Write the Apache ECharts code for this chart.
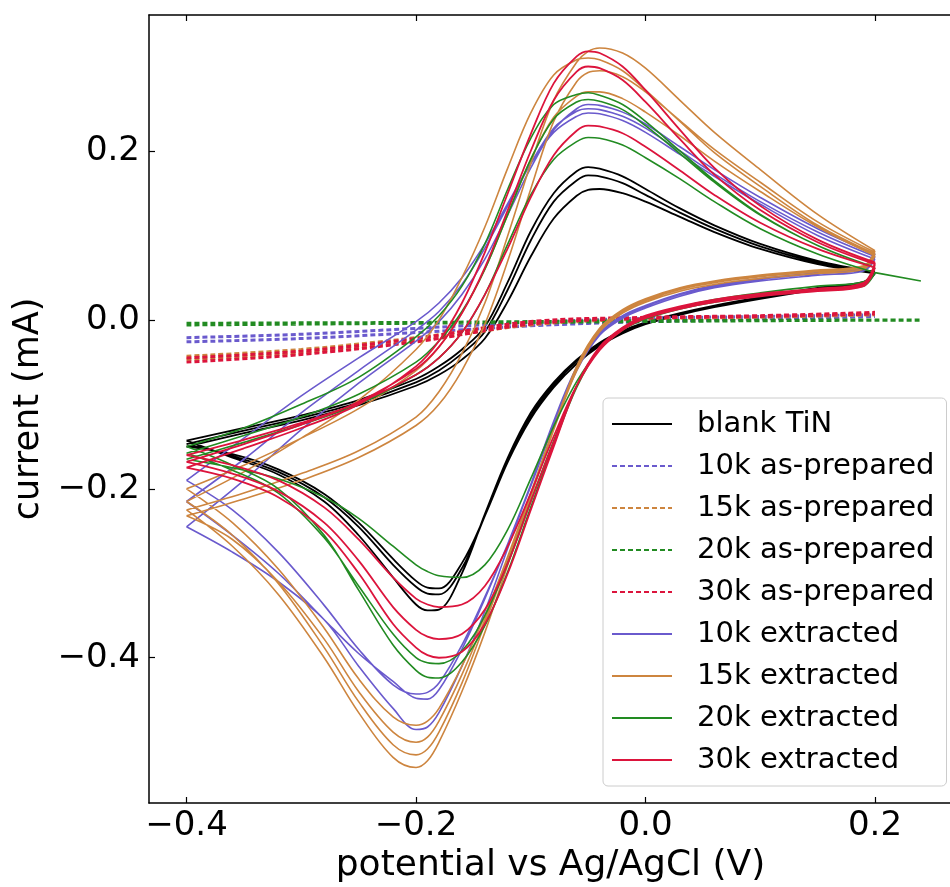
<!DOCTYPE html>
<html>
<head>
<meta charset="utf-8">
<script src="https://cdn.jsdelivr.net/npm/echarts@6/dist/echarts.min.js"></script>
<style>
html,body{margin:0;padding:0;background:#fff;}
#chart{width:950px;height:887px;}
</style>
</head>
<body>
<div id="chart"></div>
<script>
// ---- data (potential in V, current in mA) ----
const xTicks = [-0.4, -0.2, 0.0, 0.2];
const yTicks = [-0.4, -0.2, 0.0, 0.2];
// forward (anodic) sweep potentials
const xFwd = [-0.4, -0.35, -0.3, -0.25, -0.2, -0.18, -0.16, -0.14, -0.12, -0.1, -0.08, -0.06, -0.05, -0.04, -0.02, 0.0, 0.03, 0.06, 0.1, 0.15, 0.2];
// reverse (cathodic) sweep potentials
const xRev = [0.2, 0.19, 0.15, 0.1, 0.06, 0.03, 0.0, -0.02, -0.04, -0.06, -0.08, -0.1, -0.12, -0.14, -0.16, -0.18, -0.19, -0.2, -0.22, -0.25, -0.28, -0.32, -0.36, -0.4];
// as-prepared (nearly flat) sweeps
const xFlat = [-0.4, -0.3, -0.2, -0.1, 0.0, 0.1, 0.2];
const xFlat20 = [-0.4, -0.3, -0.2, -0.1, 0.0, 0.1, 0.2, 0.24];

const blankFwd = [
  [-0.143, -0.128, -0.113, -0.095, -0.07, -0.055, -0.035, -0.008, 0.045, 0.105, 0.15, 0.176, 0.181, 0.179, 0.17, 0.155, 0.132, 0.112, 0.09, 0.07, 0.057],
  [-0.147, -0.131, -0.116, -0.098, -0.074, -0.06, -0.04, -0.014, 0.036, 0.094, 0.14, 0.165, 0.171, 0.17, 0.162, 0.148, 0.127, 0.108, 0.087, 0.068, 0.056],
  [-0.15, -0.134, -0.119, -0.101, -0.078, -0.065, -0.047, -0.022, 0.022, 0.075, 0.12, 0.147, 0.154, 0.155, 0.15, 0.14, 0.122, 0.104, 0.084, 0.066, 0.055]
];
const blankRev = [
  [0.057, 0.045, 0.038, 0.027, 0.017, 0.008, -0.003, -0.013, -0.027, -0.047, -0.074, -0.11, -0.163, -0.23, -0.3, -0.343, -0.344, -0.337, -0.305, -0.255, -0.215, -0.183, -0.163, -0.143],
  [0.056, 0.044, 0.037, 0.026, 0.016, 0.007, -0.004, -0.014, -0.029, -0.049, -0.077, -0.114, -0.166, -0.232, -0.294, -0.325, -0.324, -0.316, -0.29, -0.245, -0.21, -0.18, -0.161, -0.147],
  [0.055, 0.043, 0.036, 0.025, 0.015, 0.006, -0.005, -0.016, -0.031, -0.052, -0.08, -0.117, -0.168, -0.232, -0.288, -0.318, -0.317, -0.309, -0.283, -0.24, -0.206, -0.177, -0.159, -0.15]
];

const ext10Fwd = [
  [-0.245, -0.19, -0.13, -0.075, -0.025, -0.002, 0.03, 0.072, 0.125, 0.18, 0.225, 0.25, 0.255, 0.254, 0.246, 0.232, 0.205, 0.178, 0.145, 0.108, 0.078],
  [-0.215, -0.165, -0.11, -0.06, -0.012, 0.01, 0.042, 0.085, 0.135, 0.185, 0.227, 0.247, 0.25, 0.249, 0.241, 0.227, 0.2, 0.173, 0.14, 0.104, 0.075],
  [-0.19, -0.14, -0.09, -0.045, -0.002, 0.02, 0.05, 0.09, 0.138, 0.185, 0.222, 0.241, 0.245, 0.244, 0.236, 0.222, 0.196, 0.17, 0.137, 0.1, 0.072]
];
const ext10Rev = [
  [0.078, 0.061, 0.056, 0.049, 0.041, 0.031, 0.017, 0.005, -0.015, -0.056, -0.12, -0.195, -0.27, -0.345, -0.41, -0.465, -0.482, -0.485, -0.46, -0.41, -0.355, -0.31, -0.275, -0.245],
  [0.075, 0.06, 0.055, 0.048, 0.04, 0.03, 0.016, 0.004, -0.016, -0.058, -0.122, -0.195, -0.265, -0.33, -0.39, -0.438, -0.449, -0.448, -0.428, -0.395, -0.355, -0.3, -0.255, -0.215],
  [0.072, 0.058, 0.053, 0.046, 0.038, 0.028, 0.014, 0.002, -0.018, -0.06, -0.125, -0.197, -0.265, -0.328, -0.385, -0.43, -0.441, -0.443, -0.432, -0.39, -0.338, -0.275, -0.225, -0.19]
];

const ext15Fwd = [
  [-0.225, -0.205, -0.182, -0.155, -0.115, -0.085, -0.04, 0.02, 0.1, 0.185, 0.26, 0.305, 0.318, 0.322, 0.316, 0.298, 0.26, 0.222, 0.178, 0.125, 0.082],
  [-0.215, -0.18, -0.14, -0.095, -0.035, 0.0, 0.05, 0.11, 0.18, 0.245, 0.29, 0.308, 0.31, 0.308, 0.295, 0.272, 0.235, 0.198, 0.158, 0.112, 0.078],
  [-0.232, -0.212, -0.19, -0.163, -0.125, -0.1, -0.06, -0.005, 0.07, 0.155, 0.235, 0.282, 0.293, 0.295, 0.288, 0.27, 0.236, 0.202, 0.163, 0.116, 0.08],
  [-0.2, -0.172, -0.14, -0.105, -0.06, -0.032, 0.008, 0.06, 0.125, 0.19, 0.24, 0.265, 0.27, 0.27, 0.262, 0.246, 0.218, 0.188, 0.152, 0.11, 0.076]
];
const ext15Rev = [
  [0.082, 0.064, 0.059, 0.053, 0.046, 0.038, 0.025, 0.012, -0.01, -0.055, -0.13, -0.21, -0.29, -0.37, -0.44, -0.5, -0.522, -0.53, -0.518, -0.465, -0.4, -0.325, -0.268, -0.225],
  [0.078, 0.062, 0.057, 0.051, 0.044, 0.036, 0.023, 0.01, -0.012, -0.058, -0.13, -0.208, -0.285, -0.36, -0.43, -0.488, -0.508, -0.515, -0.503, -0.452, -0.388, -0.312, -0.255, -0.215],
  [0.08, 0.063, 0.058, 0.052, 0.045, 0.037, 0.024, 0.011, -0.011, -0.056, -0.128, -0.205, -0.282, -0.355, -0.42, -0.475, -0.494, -0.5, -0.488, -0.44, -0.378, -0.31, -0.26, -0.232],
  [0.076, 0.06, 0.055, 0.049, 0.042, 0.034, 0.021, 0.008, -0.014, -0.06, -0.13, -0.205, -0.28, -0.35, -0.41, -0.46, -0.475, -0.48, -0.47, -0.425, -0.365, -0.295, -0.24, -0.2]
];

const ext20Fwd = [
  [-0.15, -0.128, -0.1, -0.068, -0.02, 0.005, 0.04, 0.09, 0.155, 0.215, 0.255, 0.267, 0.269, 0.266, 0.255, 0.235, 0.2, 0.165, 0.125, 0.088, 0.062],
  [-0.158, -0.137, -0.115, -0.088, -0.05, -0.025, 0.01, 0.06, 0.125, 0.19, 0.238, 0.258, 0.261, 0.259, 0.249, 0.23, 0.197, 0.163, 0.124, 0.088, 0.062],
  [-0.165, -0.145, -0.124, -0.1, -0.065, -0.045, -0.015, 0.03, 0.09, 0.148, 0.19, 0.211, 0.216, 0.215, 0.207, 0.192, 0.167, 0.14, 0.108, 0.078, 0.056]
];
const ext20Rev = [
  [0.062, 0.045, 0.04, 0.032, 0.024, 0.015, 0.003, -0.01, -0.034, -0.08, -0.148, -0.222, -0.298, -0.362, -0.405, -0.424, -0.423, -0.415, -0.385, -0.32, -0.255, -0.2, -0.172, -0.15],
  [0.062, 0.045, 0.04, 0.032, 0.024, 0.015, 0.003, -0.01, -0.034, -0.078, -0.143, -0.215, -0.288, -0.35, -0.392, -0.407, -0.406, -0.4, -0.372, -0.315, -0.258, -0.205, -0.178, -0.158],
  [0.056, 0.04, 0.036, 0.029, 0.021, 0.013, 0.001, -0.012, -0.035, -0.073, -0.126, -0.188, -0.248, -0.29, -0.305, -0.303, -0.298, -0.29, -0.268, -0.235, -0.21, -0.188, -0.175, -0.165]
];
const ext20TailX = [0.2, 0.24];
const ext20TailY = [0.056, 0.046];

const ext30Fwd = [
  [-0.175, -0.152, -0.128, -0.1, -0.055, -0.025, 0.02, 0.08, 0.15, 0.22, 0.28, 0.312, 0.318, 0.316, 0.3, 0.272, 0.225, 0.18, 0.135, 0.095, 0.068],
  [-0.168, -0.147, -0.124, -0.097, -0.058, -0.032, 0.008, 0.062, 0.13, 0.2, 0.26, 0.294, 0.3, 0.298, 0.284, 0.258, 0.214, 0.172, 0.13, 0.092, 0.066],
  [-0.16, -0.142, -0.122, -0.098, -0.065, -0.045, -0.015, 0.03, 0.085, 0.145, 0.195, 0.224, 0.23, 0.229, 0.221, 0.205, 0.177, 0.148, 0.115, 0.084, 0.062]
];
const ext30Rev = [
  [0.068, 0.044, 0.037, 0.031, 0.024, 0.016, 0.005, -0.009, -0.032, -0.078, -0.15, -0.225, -0.3, -0.36, -0.393, -0.4, -0.397, -0.388, -0.36, -0.3, -0.25, -0.21, -0.188, -0.175],
  [0.066, 0.042, 0.036, 0.03, 0.023, 0.015, 0.004, -0.01, -0.034, -0.078, -0.145, -0.215, -0.288, -0.343, -0.372, -0.378, -0.375, -0.367, -0.34, -0.285, -0.24, -0.203, -0.182, -0.168],
  [0.062, 0.04, 0.034, 0.028, 0.021, 0.013, 0.002, -0.012, -0.036, -0.078, -0.138, -0.205, -0.268, -0.315, -0.337, -0.34, -0.337, -0.33, -0.305, -0.26, -0.222, -0.19, -0.172, -0.16]
];

const prep10 = [
  [-0.021, -0.017, -0.01, -0.003, 0.002, 0.004, 0.006],
  [-0.026, -0.022, -0.015, -0.007, -0.002, 0.001, 0.004]
];
const prep15 = [
  [-0.043, -0.035, -0.021, -0.004, 0.002, 0.004, 0.007],
  [-0.047, -0.039, -0.025, -0.006, 0.001, 0.003, 0.006]
];
const prep20 = [
  [-0.004, -0.0035, -0.003, -0.002, -0.001, -0.0005, 0.0, 0.0],
  [-0.006, -0.005, -0.004, -0.003, -0.002, -0.001, -0.0005, -0.0005]
];
const prep30 = [
  [-0.045, -0.037, -0.022, -0.002, 0.003, 0.005, 0.009],
  [-0.05, -0.041, -0.026, -0.005, 0.002, 0.004, 0.007]
];

const legendNames = ['blank TiN', '10k as-prepared', '15k as-prepared', '20k as-prepared', '30k as-prepared',
  '10k extracted', '15k extracted', '20k extracted', '30k extracted'];
const colors = ['#000000', '#6a5acd', '#cd853f', '#228b22', '#dc143c', '#6a5acd', '#cd853f', '#228b22', '#dc143c'];

// ---- helpers to build the series data ----
function loops(fwdList, revList) {
  const d = [];
  fwdList.forEach((f, i) => {
    f.forEach((y, j) => d.push([xFwd[j], y]));
    d.push([xFwd[xFwd.length - 1], '-']);
    revList[i].forEach((y, j) => d.push([xRev[j], y]));
    d.push([xRev[xRev.length - 1], '-']);
  });
  return d;
}
function flats(xs, list) {
  const d = [];
  list.forEach(l => {
    l.forEach((y, j) => d.push([xs[j], y]));
    d.push([xs[xs.length - 1], '-']);
  });
  return d;
}
function pairs(xs, ys) { return xs.map((x, i) => [x, ys[i]]); }

const FONT = 'DejaVu Sans';
const fmt = v => (v < 0 ? '\u2212' : '') + Math.abs(v).toFixed(1);

function lineSeries(idx, data, width, dashed) {
  return {
    name: legendNames[idx], type: 'line', data: data,
    showSymbol: false, symbol: 'none', smooth: 0.35, connectNulls: false,
    lineStyle: { color: colors[idx], width: width, type: dashed ? [5, 3] : 'solid' },
    itemStyle: { color: colors[idx] },
    emphasis: { disabled: true }, silent: true, z: 2 + idx
  };
}

const ext20Data = loops(ext20Fwd, ext20Rev).concat(pairs(ext20TailX, ext20TailY));

const series = [
  lineSeries(0, loops(blankFwd, blankRev), 1.8, false),
  lineSeries(1, flats(xFlat, prep10), 3, true),
  lineSeries(2, flats(xFlat, prep15), 3, true),
  lineSeries(3, flats(xFlat20, prep20), 3, true),
  lineSeries(4, flats(xFlat, prep30), 3, true),
  lineSeries(5, loops(ext10Fwd, ext10Rev), 1.6, false),
  lineSeries(6, loops(ext15Fwd, ext15Rev), 1.6, false),
  lineSeries(7, ext20Data, 1.6, false),
  lineSeries(8, loops(ext30Fwd, ext30Rev), 1.8, false)
];

const xMin = -0.4327, xMax = 0.2671, yMin = -0.572, yMax = 0.361;
const axisLineStyle = { color: '#000', width: 1.5 };
const tickStyle = { color: '#000', width: 1.2 };

const option = {
  animation: false,
  backgroundColor: '#fff',
  grid: { left: 149, top: 15, width: 803, height: 788, containLabel: false, outerBoundsMode: 'none' },
  xAxis: [{
    type: 'value', min: xMin, max: xMax,
    axisLine: { show: true, onZero: false, lineStyle: axisLineStyle },
    axisTick: { show: true, inside: true, customValues: xTicks, length: 6, lineStyle: tickStyle },
    axisLabel: { customValues: xTicks, formatter: fmt, fontSize: 34, color: '#000', fontFamily: FONT, margin: 6 },
    splitLine: { show: false },
    name: 'potential vs Ag/AgCl (V)', nameLocation: 'middle', nameGap: 43,
    nameTextStyle: { fontSize: 36, color: '#000', fontFamily: FONT }
  }, {
    type: 'value', min: xMin, max: xMax, position: 'top',
    axisLine: { show: true, onZero: false, lineStyle: axisLineStyle },
    axisTick: { show: true, inside: true, customValues: xTicks, length: 6, lineStyle: tickStyle },
    axisLabel: { show: false }, splitLine: { show: false }
  }],
  yAxis: [{
    type: 'value', min: yMin, max: yMax,
    axisLine: { show: true, onZero: false, lineStyle: axisLineStyle },
    axisTick: { show: true, inside: true, customValues: yTicks, length: 6, lineStyle: tickStyle },
    axisLabel: { customValues: yTicks, formatter: fmt, fontSize: 34, color: '#000', fontFamily: FONT, margin: 9 },
    splitLine: { show: false },
    name: 'current (mA)', nameLocation: 'middle', nameGap: 102,
    nameTextStyle: { fontSize: 35, color: '#000', fontFamily: FONT }
  }],
  legend: {
    data: legendNames, orient: 'vertical', left: 603, top: 398,
    padding: [10, 12, 10, 8],
    itemWidth: 60, itemHeight: 14, itemGap: 10,
    itemStyle: { opacity: 0 },
    backgroundColor: 'rgba(255,255,255,0.85)', borderColor: '#cccccc', borderWidth: 1, borderRadius: 5,
    textStyle: { fontSize: 29, lineHeight: 32, color: '#000', fontFamily: FONT, padding: [0, 0, 0, 20] },
    selectedMode: false
  },
  series: series
};

const chart = echarts.init(document.getElementById('chart'), null, { renderer: 'canvas' });
chart.setOption(option);
</script>
</body>
</html>
